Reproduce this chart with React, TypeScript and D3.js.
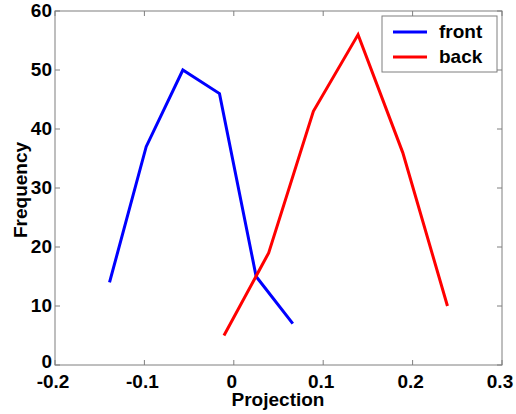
import React from "react";
import * as d3 from "d3";

const frontX = [-0.139, -0.098, -0.057, -0.016, 0.025, 0.066];
const frontY = [14, 37, 50, 46, 15, 7];
const backX = [-0.011, 0.039, 0.089, 0.139, 0.189, 0.239];
const backY = [5, 19, 43, 56, 36, 10];
const xTicks = [-0.2, -0.1, 0, 0.1, 0.2, 0.3];
const yTicks = [0, 10, 20, 30, 40, 50, 60];
const seriesNames = ["front", "back"];
const seriesColors = ["#0000ff", "#ff0000"];

export default function App() {
  const W = 516, H = 414;
  const left = 55, right = 502, top = 11, bottom = 365;
  const x = d3.scaleLinear().domain([-0.2, 0.3]).range([left, right]);
  const y = d3.scaleLinear().domain([0, 60]).range([bottom, top]);
  const line = d3.line<[number, number]>().x(d => x(d[0])).y(d => y(d[1]));
  const series = [
    frontX.map((v, i) => [v, frontY[i]] as [number, number]),
    backX.map((v, i) => [v, backY[i]] as [number, number]),
  ];
  const font = "'Liberation Sans', Arial, Helvetica, sans-serif";
  const axisColor = "#7f7f7f";
  const fmtX = (v: number) => (v === 0 ? "0" : d3.format(".1f")(v).replace("\u2212", "-"));
  const fs = 19;
  return (
    <svg width={W} height={H} style={{ position: "absolute", left: 0, top: 0, background: "#fff" }}
      fontFamily={font} fontWeight="bold">
      <rect x={0} y={0} width={W} height={H} fill="#fff" />
      <rect x={left} y={top} width={right - left} height={bottom - top} fill="none" stroke={axisColor} strokeWidth={1} />
      {xTicks.map(t => (
        <g key={"x" + t}>
          <line x1={x(t)} x2={x(t)} y1={bottom} y2={bottom - 5} stroke={axisColor} />
          <line x1={x(t)} x2={x(t)} y1={top} y2={top + 5} stroke={axisColor} />
          <text x={x(t) - 2} y={388} textAnchor="middle" fontSize={fs} fill="#000">{fmtX(t)}</text>
        </g>
      ))}
      {yTicks.map(t => (
        <g key={"y" + t}>
          <line x1={left} x2={left + 5} y1={y(t)} y2={y(t)} stroke={axisColor} />
          <line x1={right} x2={right - 5} y1={y(t)} y2={y(t)} stroke={axisColor} />
          <text x={52} y={y(t) + (t === 0 ? 3 : 6)} textAnchor="end" fontSize={fs} fill="#000">{t}</text>
        </g>
      ))}
      {series.map((s, i) => (
        <path key={i} d={line(s) || ""} fill="none" stroke={seriesColors[i]} strokeWidth={3} strokeLinejoin="miter" />
      ))}
      <text x={278} y={406} textAnchor="middle" fontSize={fs} fill="#000">Projection</text>
      <text transform={`translate(27,190) rotate(-90)`} textAnchor="middle" fontSize={fs} fill="#000">Frequency</text>
      <rect x={382} y={16} width={115} height={56} fill="#fff" stroke={axisColor} strokeWidth={1} />
      {seriesNames.map((n, i) => (
        <g key={n}>
          <line x1={393} x2={427} y1={32 + i * 25} y2={32 + i * 25} stroke={seriesColors[i]} strokeWidth={3} />
          <text x={439} y={38 + i * 25} fontSize={fs} fill="#000">{n}</text>
        </g>
      ))}
    </svg>
  );
}
